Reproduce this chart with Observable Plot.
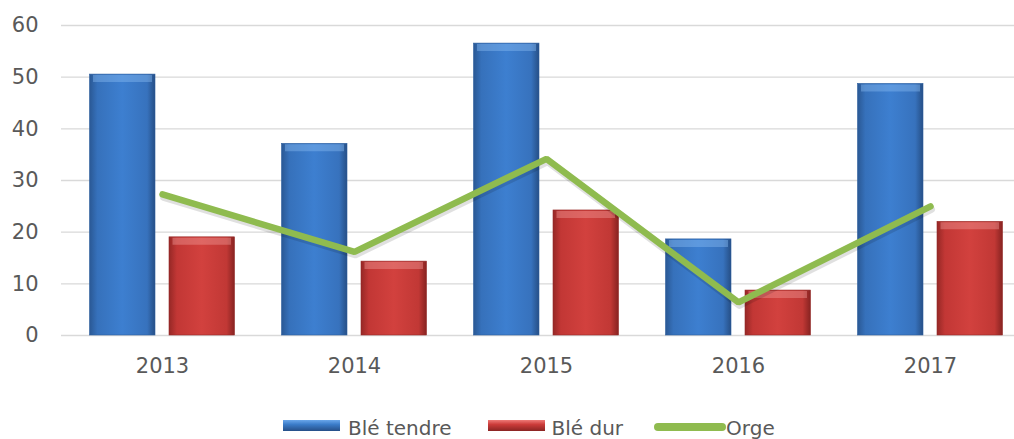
<!DOCTYPE html>
<html><head><meta charset="utf-8">
<script src="https://cdn.jsdelivr.net/npm/d3@7"></script>
<script src="https://cdn.jsdelivr.net/npm/@observablehq/plot@0.6"></script>
<style>
html,body{margin:0;padding:0;background:#fff;overflow:hidden;width:1014px;height:439px;position:relative;}
#chart svg{overflow:hidden;}
.legend{position:absolute;left:283px;top:412px;height:32px;display:flex;align-items:center;font-family:"DejaVu Sans",sans-serif;font-size:20px;color:#595959;white-space:nowrap;}
.legend .item{display:flex;align-items:center;}
</style></head><body>
<div id="chart"></div>
<div class="legend">
  <div class="item"><svg width="58" height="14" style="margin-top:-4px"><defs><linearGradient id="lgB" x1="0" y1="0" x2="0" y2="1"><stop offset="0" stop-color="#6aa6ea"/><stop offset="0.4" stop-color="#3b7cc9"/><stop offset="1" stop-color="#264f88"/></linearGradient></defs><rect x="0" y="1" width="57" height="11" fill="url(#lgB)"/></svg><span style="margin-left:7px">Blé tendre</span></div>
  <div class="item" style="margin-left:36px"><svg width="58" height="14" style="margin-top:-4px"><defs><linearGradient id="lgR" x1="0" y1="0" x2="0" y2="1"><stop offset="0" stop-color="#ee7a77"/><stop offset="0.4" stop-color="#cc3c3a"/><stop offset="1" stop-color="#8a2523"/></linearGradient></defs><rect x="0" y="1" width="57" height="11" fill="url(#lgR)"/></svg><span style="margin-left:6px">Blé dur</span></div>
  <div class="item" style="margin-left:31px"><svg width="72" height="14" style="margin-top:-2px"><line x1="4" y1="7" x2="68" y2="7" stroke="#8fbb4f" stroke-width="8" stroke-linecap="round"/></svg><span>Orge</span></div>
</div>
<script>
const years = ["2013","2014","2015","2016","2017"];
const bleTendre = [50.5, 37.1, 56.5, 18.6, 48.7];
const bleDur = [19.0, 14.3, 24.2, 8.7, 22.0];
const orge = [27.3, 16.2, 34.2, 6.4, 25.0];
const yTicks = [0,10,20,30,40,50,60];

const tendre = years.map((y,i)=>({year:y, v:bleTendre[i]}));
const dur = years.map((y,i)=>({year:y, v:bleDur[i]}));
const org = years.map((y,i)=>({year:y, v:orge[i]}));

const font = "'DejaVu Sans', sans-serif";
const plot = Plot.plot({
  width: 1014,
  height: 385,
  marginLeft: 64.5,
  marginRight: -13,
  marginTop: 25,
  marginBottom: 50,
  style: {fontFamily: font, fontSize: "21px", color: "#595959", background: "white"},
  x: {domain: years, padding: 0, label: null, tickSize: 0, tickPadding: 23},
  y: {domain: [0, 60], ticks: yTicks, label: null, tickSize: 0, tickPadding: 26.5},
  marks: [
    Plot.ruleY(yTicks, {stroke: "#d9d9d9", strokeWidth: 1.3, insetLeft: -3.5}),
    Plot.barY(tendre, {x: "year", y: "v", fill: "url(#gB)", insetLeft: 23.5, insetRight: 103, stroke: "#2e5f9f", strokeWidth: 0.6}),
    Plot.barY(dur, {x: "year", y: "v", fill: "url(#gR)", insetLeft: 103, insetRight: 23.5, stroke: "#952b29", strokeWidth: 0.6}),
    Plot.tickY(tendre, {x: "year", y: "v", dy: 4, stroke: "#8ec0f5", strokeOpacity: 0.4, strokeWidth: 7, insetLeft: 27, insetRight: 106}),
    Plot.tickY(dur, {x: "year", y: "v", dy: 4, stroke: "#f3a09d", strokeOpacity: 0.4, strokeWidth: 7, insetLeft: 106.5, insetRight: 27}),
    Plot.lineY(org, {x: "year", y: "v", stroke: "#000", strokeOpacity: 0.12, strokeWidth: 7, dy: 3, dx: 1}),
    Plot.lineY(org, {x: "year", y: "v", stroke: "#8fbb4f", strokeWidth: 6.5, strokeLinecap: "round", strokeLinejoin: "miter"})
  ]
});
d3.select(plot).insert("defs", ":first-child").html(`
  <linearGradient id="gB" x1="0" y1="0" x2="1" y2="0">
    <stop offset="0" stop-color="#2a5894"/><stop offset="0.12" stop-color="#3671bb"/>
    <stop offset="0.5" stop-color="#3d7fd0"/><stop offset="0.88" stop-color="#3772bd"/>
    <stop offset="1" stop-color="#264f86"/>
  </linearGradient>
  <linearGradient id="gR" x1="0" y1="0" x2="1" y2="0">
    <stop offset="0" stop-color="#962826"/><stop offset="0.12" stop-color="#c23735"/>
    <stop offset="0.5" stop-color="#d2413e"/><stop offset="0.88" stop-color="#c13835"/>
    <stop offset="1" stop-color="#872321"/>
  </linearGradient>`);
document.getElementById("chart").appendChild(plot);
</script>
</body></html>
